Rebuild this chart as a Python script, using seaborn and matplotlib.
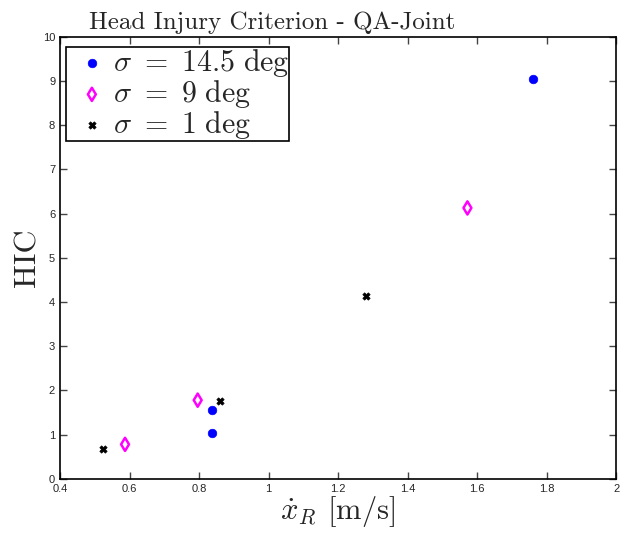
import seaborn as sns
import matplotlib.pyplot as plt
from matplotlib.ticker import FuncFormatter, MultipleLocator

sns.set_style('ticks')
plt.rcParams['mathtext.fontset'] = 'cm'
plt.rcParams['axes.formatter.use_mathtext'] = True
plt.rcParams['font.family'] = ['Liberation Sans', 'DejaVu Sans']

# HIC values for the three joint stiffness settings
x_14 = [1.76, 0.838, 0.838]
hic_14 = [9.05, 1.56, 1.04]
x_9 = [0.587, 0.796, 1.572]
hic_9 = [0.78, 1.78, 6.13]
x_1 = [0.524, 0.859, 1.280]
hic_1 = [0.67, 1.76, 4.13]

labels = [r'$\sigma\ =\ 14.5\ \mathrm{deg}$', r'$\sigma\ =\ 9\ \mathrm{deg}$', r'$\sigma\ =\ 1\ \mathrm{deg}$']

fig = plt.figure(figsize=(6.32, 5.35), dpi=100)
ax = fig.add_axes([0.095, 0.105, 0.88, 0.826])

sns.scatterplot(x=x_14, y=hic_14, ax=ax, marker='o', s=38, color='blue', edgecolor='blue',
                linewidth=0.5, label=labels[0])
sns.scatterplot(x=x_9, y=hic_9, ax=ax, marker='d', s=45, color='magenta', facecolor='none',
                edgecolor='magenta', linewidth=1.8, label=labels[1])
sns.scatterplot(x=x_1, y=hic_1, ax=ax, marker='X', s=28, color='black', edgecolor='black',
                linewidth=0.5, label=labels[2])

ax.set_xlim(0.4, 2)
ax.set_ylim(0, 10)
ax.xaxis.set_major_locator(MultipleLocator(0.2))
ax.yaxis.set_major_locator(MultipleLocator(1))
ax.xaxis.set_major_formatter(FuncFormatter(lambda v, p: '%g' % round(v, 2)))
ax.yaxis.set_major_formatter(FuncFormatter(lambda v, p: '%g' % round(v, 2)))
ax.tick_params(direction='in', length=5, width=1, labelsize=8, top=True, right=True, color='#444444')
for sp in ax.spines.values():
    sp.set_visible(True)
    sp.set_linewidth(1.2)
    sp.set_color('black')

ax.set_title('Head Injury Criterion - QA-Joint', family='cmr10', fontsize=18, pad=6, x=0.381)
ax.set_xlabel(r'$\dot{x}_R$ [m/s]', family='cmr10', fontsize=22, labelpad=0)
ax.set_ylabel('HIC', family='cmr10', fontsize=23, labelpad=1)

leg = ax.legend(loc='upper left', bbox_to_anchor=(0.0108, 0.977), fontsize=21.5, fancybox=False,
                framealpha=1, edgecolor='black', borderaxespad=0, handletextpad=-0.17,
                labelspacing=-0.03, borderpad=0.0, handlelength=1.73)
leg.get_frame().set_linewidth(1.2)

fig.savefig('out.png', dpi=100)
